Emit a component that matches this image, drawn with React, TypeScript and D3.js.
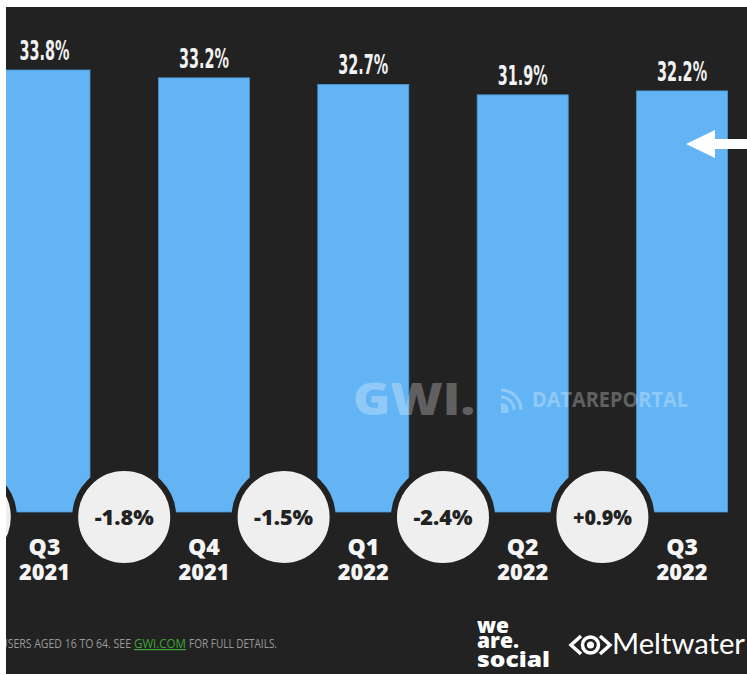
import React from "react";
import * as d3 from "d3";

const categories = ["Q3 2021", "Q4 2021", "Q1 2022", "Q2 2022", "Q3 2022"];
const values = [33.8, 33.2, 32.7, 31.9, 32.2];
const valueLabels = ["33.8%", "33.2%", "32.7%", "31.9%", "32.2%"];
const changes = ["-1.8%", "-1.5%", "-2.4%", "+0.9%"];

const W = 747;
const H = 675;
const BG = "#222222";
const BAR = "#62b4f5";

export default function App() {
  const x = d3.scaleBand<string>().domain(categories).range([-1, 727.6]).paddingInner(0.429).paddingOuter(0);
  const y = d3.scaleLinear().domain([0, 33.8]).range([512, 70]);
  const bw = x.bandwidth();
  const step = x.step();
  const gap = step - bw;
  const circleY = 517;

  const circleCenters = [x(categories[0])! - gap / 2, ...changes.map((_, i) => x(categories[i])! + bw + gap / 2)];
  const footFont = { fontFamily: "'Open Sans', sans-serif", fontSize: 12 };

  return (
    <svg width={W} height={H} style={{ position: "absolute", left: 0, top: 0, display: "block" }}>
      <rect x={0} y={0} width={W} height={H} fill={BG} />
      {categories.map((c, i) => (
        <rect key={c} x={x(c)} y={y(values[i])} width={bw} height={y(0) - y(values[i])} fill={BAR} stroke="#4f97d0" strokeWidth={0.8} />
      ))}
      {categories.map((c, i) => (
        <text key={c + "v"} x={x(c)! + bw / 2} y={y(values[i]) - 10} textAnchor="middle" fill="#f2f2f2"
          fontFamily="'DejaVu Sans Condensed', 'Roboto', sans-serif" fontSize={26} fontWeight={700}
          textLength={50} lengthAdjust="spacingAndGlyphs">{valueLabels[i]}</text>
      ))}
      <g opacity={0.28} fill="#ffffff">
        <text x={353} y={415} fontFamily="'Open Sans', sans-serif" fontWeight={800} fontSize={45} textLength={122} lengthAdjust="spacingAndGlyphs">GWI.</text>
        <g fill="none" stroke="#ffffff" strokeWidth={3}>
          <path d="M501,390 A20,20 0 0 1 521,410" />
          <path d="M501,397 A13,13 0 0 1 514,410" />
        </g>
        <path d="M501,403 L501,413 L508,413 A7,7 0 0 0 501,403 Z" />
        <text x={532} y={407} fontFamily="'Open Sans', sans-serif" fontWeight={700} fontSize={21} textLength={156} lengthAdjust="spacingAndGlyphs">DATAREPORTAL</text>
      </g>
      {circleCenters.map((cx, i) => (
        <g key={"c" + i}>
          <circle cx={cx} cy={circleY} r={49} fill="#efefef" stroke={BG} strokeWidth={6} />
          {i > 0 && (
            <text x={cx} y={circleY + 8} textAnchor="middle" fill="#222"
              fontFamily="'Open Sans', sans-serif" fontWeight={800} fontSize={21}
              textLength={59} lengthAdjust="spacingAndGlyphs">{changes[i - 1]}</text>
          )}
        </g>
      ))}
      {categories.map((c) => {
        const [q, yr] = c.split(" ");
        const cx = x(c)! + bw / 2;
        return (
          <g key={c + "l"} fill="#f5f5f5" fontFamily="'Open Sans', sans-serif" fontWeight={800} fontSize={23} textAnchor="middle">
            <text x={cx} y={555}>{q}</text>
            <text x={cx} y={580} textLength={51} lengthAdjust="spacingAndGlyphs">{yr}</text>
          </g>
        );
      })}
      <path d="M686,144 L715,130 L715,139 L747,139 L747,149 L715,149 L715,158 Z" fill="#ffffff" />
      <text x={131} y={648} textAnchor="end" {...footFont} fill="#9a9a9a" textLength={131} lengthAdjust="spacingAndGlyphs">USERS AGED 16 TO 64. SEE</text>
      <text x={134} y={648} {...footFont} fill="#3fa535" textDecoration="underline" textLength={52} lengthAdjust="spacingAndGlyphs">GWI.COM</text>
      <text x={189} y={648} {...footFont} fill="#9a9a9a" textLength={88} lengthAdjust="spacingAndGlyphs">FOR FULL DETAILS.</text>
      <g fill="#ffffff" fontFamily="'Open Sans', sans-serif" fontWeight={800} fontSize={21}>
        <text x={477} y={633} textLength={32} lengthAdjust="spacingAndGlyphs">we</text>
        <text x={477} y={648} textLength={42} lengthAdjust="spacingAndGlyphs">are.</text>
        <text x={477} y={667} textLength={73} lengthAdjust="spacingAndGlyphs">social</text>
      </g>
      <g fill="none" stroke="#ffffff" strokeWidth={3.5} strokeLinejoin="miter">
        <path d="M581,636 L571,645 L581,654" />
        <path d="M600,636 L610,645 L600,654" />
        <circle cx={590.5} cy={645} r={8} />
      </g>
      <circle cx={590.5} cy={645} r={3.5} fill="#ffffff" />
      <text x={612} y={654} fill="#ffffff" fontFamily="'Lato', 'Open Sans', sans-serif" fontSize={28}
        textLength={133} lengthAdjust="spacingAndGlyphs">Meltwater</text>
      <rect x={0} y={0} width={W} height={7} fill="#ffffff" />
      <rect x={0} y={0} width={6} height={H} fill="#ffffff" />
      <rect x={0} y={674} width={W} height={1} fill="#ffffff" />
    </svg>
  );
}
